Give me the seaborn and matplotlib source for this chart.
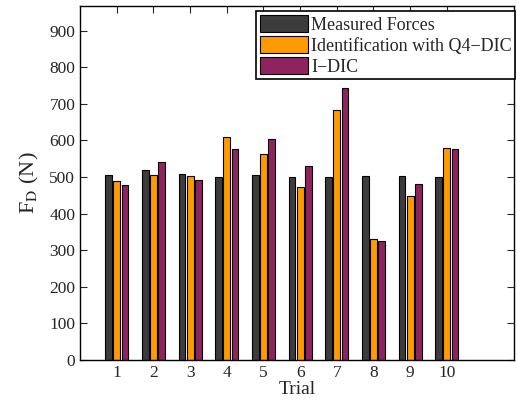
import pandas as pd
import numpy as np
import seaborn as sns
import matplotlib.pyplot as plt

# values
trials = ["1", "2", "3", "4", "5", "6", "7", "8", "9", "10"]
measured = [505, 519, 509, 501, 505, 500, 500, 503, 503, 501]
q4_dic = [489, 506, 502, 609, 562, 474, 683, 332, 447, 579]
i_dic = [478, 541, 491, 576, 603, 530, 744, 326, 480, 576]

SERIES = ["Measured Forces", "Identification with Q4\u2212DIC", "I\u2212DIC"]
PALETTE = ["#3c3c3c", "#ff9a00", "#8e2360"]

df = pd.DataFrame({
    "Trial": trials * 3,
    "Force": measured + q4_dic + i_dic,
    "Series": [SERIES[0]] * 10 + [SERIES[1]] * 10 + [SERIES[2]] * 10,
})

sns.set_style("ticks")
plt.rcParams["font.family"] = ["Liberation Serif", "DejaVu Serif"]
plt.rcParams["mathtext.fontset"] = "stix"

fig = plt.figure(figsize=(5.17, 4.05), dpi=100)
ax = fig.add_axes([0.155, 0.111, 0.839, 0.874])

sns.barplot(
    data=df, x="Trial", y="Force", hue="Series",
    hue_order=SERIES, palette=PALETTE, order=trials,
    width=0.67, gap=0.17, edgecolor="black", linewidth=0.8,
    saturation=1, errorbar=None, ax=ax,
)

ax.set_xlim(-1, 10.83)
ax.set_ylim(0, 967)
ax.set_yticks(np.arange(0, 1000, 100))
ax.set_xlabel("Trial", fontsize=14, labelpad=0)
ax.set_ylabel(r"F$_{\rm D}$ (N)", fontsize=16, labelpad=6)

ax.tick_params(direction="in", top=True, right=True, labelsize=12.5,
               length=5, width=0.8)
for s in ax.spines.values():
    s.set_visible(True)
    s.set_linewidth(1.0)
    s.set_color("black")

leg = ax.legend(
    loc="upper right", bbox_to_anchor=(1.003, 0.985), fontsize=13,
    frameon=True, fancybox=False, edgecolor="black",
    handlelength=2.7, handleheight=1.1, handletextpad=0.15,
    labelspacing=0.12, borderpad=0.2, borderaxespad=0,
)
leg.get_frame().set_linewidth(1.2)
leg.get_frame().set_alpha(1)

fig.savefig("out.png", dpi=100)
